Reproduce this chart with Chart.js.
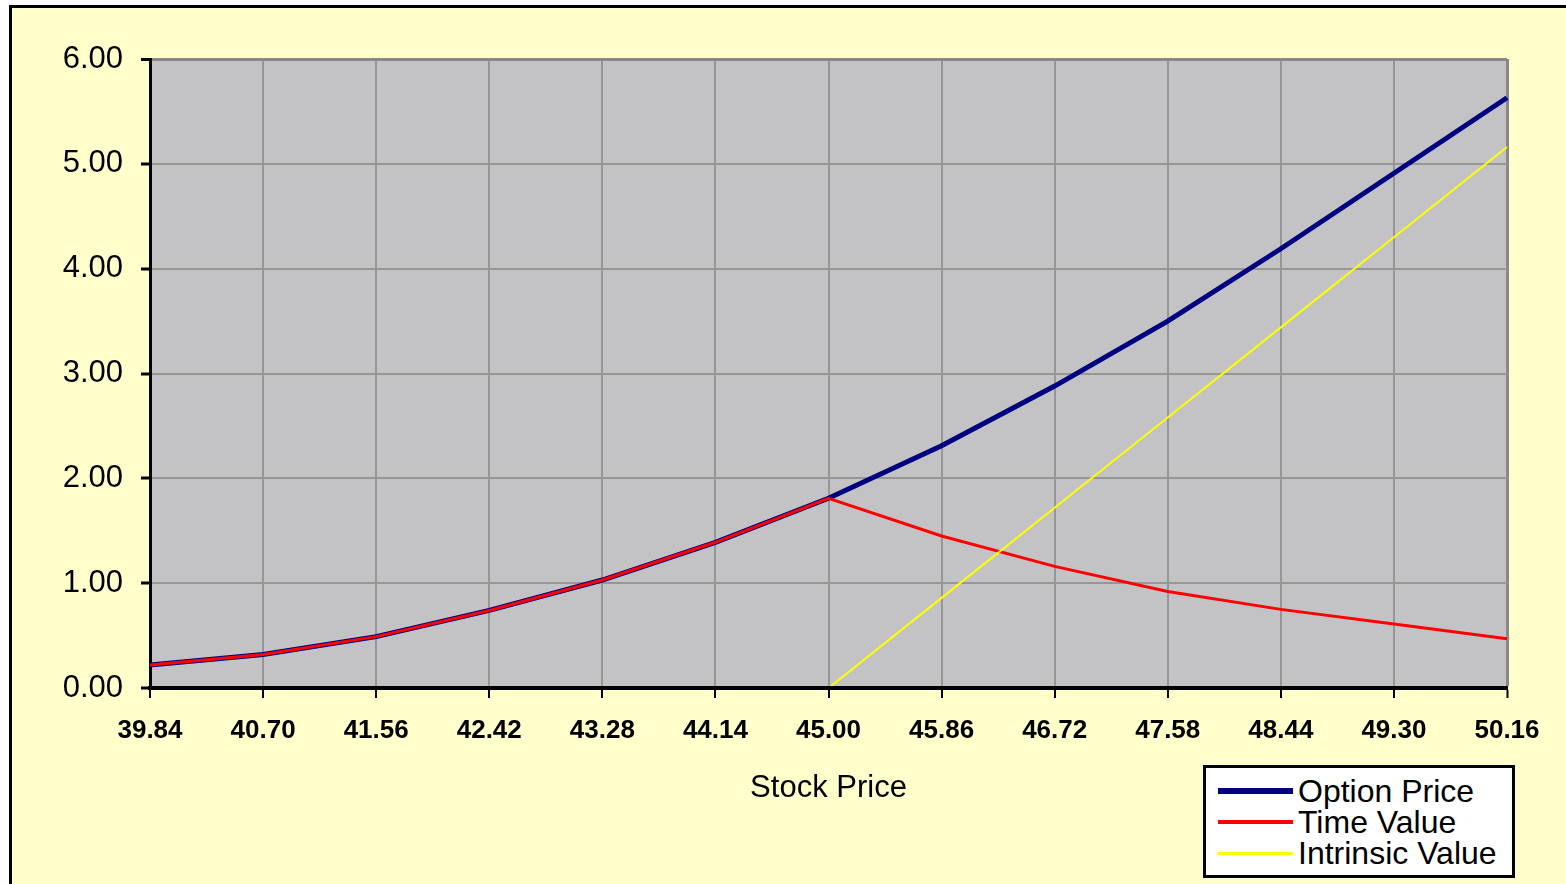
<!DOCTYPE html>
<html>
<head>
<meta charset="utf-8">
<title>Option Price vs Stock Price</title>
<script src="https://cdn.jsdelivr.net/npm/chart.js@4.4.1/dist/chart.umd.min.js"></script>
<style>
  html, body { margin: 0; padding: 0; background: #ffffff; overflow: hidden; }
  #frame {
    position: absolute; left: 9px; top: 5px; width: 1700px; height: 1000px;
    background: #ffffcc; border-left: 3px solid #000; border-top: 3px solid #000;
  }
  #wrap { position: absolute; left: 0; top: 0; width: 1566px; height: 884px; }
  #legend {
    position: absolute; left: 1203px; top: 765px; width: 312px; height: 113px;
    box-sizing: border-box; border: 3px solid #000; background: #fff;
    padding-top: 8px; font-family: "Liberation Sans", Arial, sans-serif; font-size: 32px; color: #000;
  }
  #legend .row { position: relative; height: 31px; line-height: 31px; padding-left: 92px; white-space: nowrap; }
  #legend .sw { position: absolute; left: 12px; width: 75px; }
</style>
</head>
<body>
<div id="frame"></div>
<div id="wrap"><canvas id="chart" width="1566" height="884"></canvas></div>
<div id="legend"></div>
<script>
// Stock prices along the category axis
const stockPrices = ['39.84', '40.70', '41.56', '42.42', '43.28', '44.14', '45.00',
                     '45.86', '46.72', '47.58', '48.44', '49.30', '50.16'];
// Call option value at each stock price
const optionPrice = [0.22, 0.32, 0.49, 0.74, 1.03, 1.39, 1.81, 2.31, 2.88, 3.50, 4.19, 4.91, 5.63];
// Time value component
const timeValue = [0.22, 0.32, 0.49, 0.74, 1.03, 1.39, 1.81, 1.45, 1.16, 0.92, 0.75, 0.61, 0.47];
// Intrinsic value component (strike 45.00)
const intrinsicValue = [0, 0, 0, 0, 0, 0, 0, 0.86, 1.72, 2.58, 3.44, 4.30, 5.16];
// Value axis ticks
const valueTicks = [0, 1, 2, 3, 4, 5, 6];

Chart.defaults.font.family = '"Liberation Sans", Arial, sans-serif';
Chart.defaults.color = '#000';

// Gray plotting area
const plotBackground = {
  id: 'plotBackground',
  beforeDraw(chart) {
    const { ctx, chartArea: a } = chart;
    ctx.save();
    ctx.fillStyle = '#c3c3c6';
    ctx.fillRect(a.left, a.top, a.right - a.left, a.bottom - a.top);
    ctx.restore();
  }
};

// Category axis line stays above the series that sit at zero
const axisOnTop = {
  id: 'axisOnTop',
  afterDatasetsDraw(chart) {
    const { ctx, chartArea: a, scales } = chart;
    const y0 = scales.y.getPixelForValue(0);
    ctx.save();
    ctx.strokeStyle = '#000';
    ctx.lineWidth = 4;
    ctx.beginPath();
    ctx.moveTo(a.left - 1.5, y0);
    ctx.lineTo(a.right, y0);
    ctx.stroke();
    ctx.restore();
  }
};

const lastX = stockPrices.length - 1;
const lastY = valueTicks.length - 1;

const chart = new Chart(document.getElementById('chart'), {
  type: 'line',
  data: {
    labels: stockPrices,
    datasets: [
      { label: 'Option Price', data: optionPrice, borderColor: '#000080', borderWidth: 5, order: 3 },
      { label: 'Time Value', data: timeValue, borderColor: '#ff0000', borderWidth: 3, order: 2 },
      { label: 'Intrinsic Value', data: intrinsicValue, borderColor: '#ffff00', borderWidth: 2, order: 1 }
    ]
  },
  options: {
    responsive: false,
    animation: false,
    layout: { padding: { left: 12, right: 59, top: 59, bottom: 74 } },
    elements: {
      point: { radius: 0, hoverRadius: 0 },
      line: { tension: 0, fill: false, borderCapStyle: 'butt' }
    },
    plugins: {
      legend: { display: false },
      tooltip: { enabled: false },
      title: { display: false }
    },
    scales: {
      x: {
        type: 'category',
        offset: false,
        grid: {
          color: c => c.index === lastX ? '#888888' : '#969694',
          lineWidth: c => c.index === lastX ? 3 : 2,
          tickLength: 10,
          tickColor: '#000',
          tickWidth: 2
        },
        border: { color: '#000', width: 4 },
        ticks: {
          autoSkip: false, maxRotation: 0, padding: 17, color: '#000',
          font: { size: 26, weight: 'bold' }
        },
        title: {
          display: true, text: 'Stock Price', color: '#000',
          font: { size: 31 }, padding: { top: 0, bottom: 3 }
        },
        afterFit(scale) { scale.height = 122; }
      },
      y: {
        min: valueTicks[0],
        max: valueTicks[lastY],
        afterBuildTicks(scale) { scale.ticks = valueTicks.map(v => ({ value: v })); },
        grid: {
          color: c => c.index === lastY ? '#888888' : '#969694',
          lineWidth: c => c.index === lastY ? 3 : 2,
          tickLength: 9,
          tickColor: '#000',
          tickWidth: 3
        },
        border: { color: '#000', width: 3 },
        ticks: {
          padding: 18, color: '#000',
          font: { size: 31 },
          callback: v => Number(v).toFixed(2)
        },
        afterFit(scale) { scale.width = 138; }
      }
    }
  },
  plugins: [plotBackground, axisOnTop]
});

// Boxed legend built from the datasets
const legend = document.getElementById('legend');
chart.data.datasets.forEach(ds => {
  const row = document.createElement('div');
  row.className = 'row';
  const sw = document.createElement('span');
  sw.className = 'sw';
  const h = Math.round(ds.borderWidth + 0.5);
  sw.style.height = h + 'px';
  sw.style.top = (15 - h / 2) + 'px';
  sw.style.background = ds.borderColor;
  row.appendChild(sw);
  row.appendChild(document.createTextNode(ds.label));
  legend.appendChild(row);
});
</script>
</body>
</html>
